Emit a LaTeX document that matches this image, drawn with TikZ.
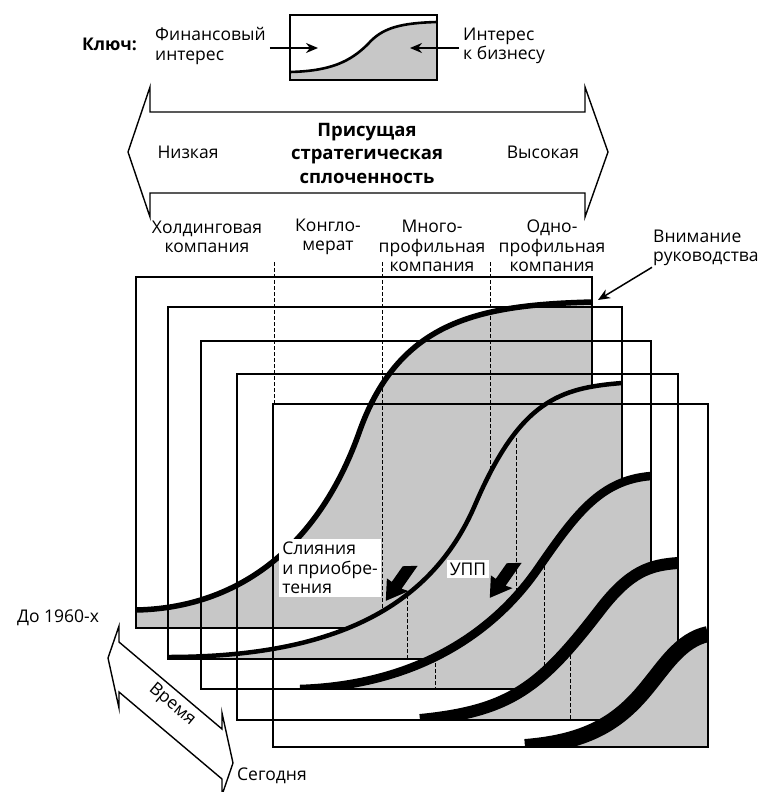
\documentclass[tikz,border=0pt]{standalone}
\usepackage{fontspec}
\setmainfont{Open Sans}
\usetikzlibrary{arrows.meta}

\tikzset{
  frm/.style={draw, line width=1.1pt},
  greyarea/.style={fill=black!22},
  divider/.style={line width=0.9pt, dash pattern=on 3.5pt off 2.5pt},
  lbl/.style={font=\fontsize{17.5}{19.5}\selectfont, align=center, inner sep=1pt},
  ptr/.style={-{Stealth[length=12pt,width=10pt]}, line width=1.5pt},
  whitebox/.style={lbl, fill=white, align=left, inner sep=3pt},
}

% curves of the five frames
\newcommand{\curveA}{(136,610) .. controls (240,608) and (320,545) .. (360,430) .. controls (400,320) and (480,305) .. (592,302)}
\newcommand{\curveB}{(168,657) .. controls (330,657) and (430,610) .. (475,505) .. controls (520,400) and (560,388) .. (622,383)}
\newcommand{\curveC}{(300,689) .. controls (420,685) and (495,630) .. (537,570) .. controls (575,515) and (600,480) .. (651,476)}
\newcommand{\curveD}{(420,720) .. controls (510,711) and (540,688) .. (600,610) .. controls (630,571) and (650,565) .. (678,563)}
\newcommand{\curveE}{(525,747) .. controls (590,742) and (620,720) .. (645,690) .. controls (665,666) and (680,640) .. (708,634)}
% black block arrow, pointing along local x
\newcommand{\blockarrow}{(-24,-6) -- (4,-6) -- (2,-13) -- (23,0) -- (4,12) -- (4,6) -- (-15,6) -- cycle}

\begin{document}
\begin{tikzpicture}[x=1pt, y=-1pt]
\useasboundingbox (0,0) rectangle (760,792);

% key
\fill[greyarea] (290,72) .. controls (330,71) and (350,62) .. (368,44) .. controls (382,28) and (400,23) .. (437,22) -- (437,80) -- (290,80) -- cycle;
\draw[line width=2.6pt] (290,72) .. controls (330,71) and (350,62) .. (368,44) .. controls (382,28) and (400,23) .. (437,22);
\draw[frm, line width=1.4pt] (290,15) rectangle (437,80);
\node[lbl, anchor=east] (keyword) at (138,44) {\bfseries Ключ:};
\node[lbl, align=left, anchor=west, inner sep=4pt] (fin) at (151,46) {Финансовый\\интерес};
\node[lbl, align=left, anchor=west, inner sep=4pt] (biz) at (459,46) {Интерес\\к бизнесу};
\coordinate (finTip) at (318,48);
\coordinate (bizTip) at (410,48);
\draw[ptr] (fin.east |- finTip) -- (finTip);
\draw[ptr] (biz.west |- bizTip) -- (bizTip);

% cohesion arrow
\draw[line width=1.4pt] (128,152) -- (150,87) -- (150,112) -- (585,112) -- (585,87) -- (608,152)
  -- (585,217) -- (585,193) -- (150,193) -- (150,217) -- cycle;
\node[lbl] (low) at (188,152) {Низкая};
\node[lbl] (high) at (543,152) {Высокая};
\node[lbl, font=\fontsize{18.5}{23.5}\selectfont\bfseries] (cohesion) at (367,153) {Присущая\\стратегическая\\сплоченность};

% company types
\node[lbl] (holding) at (207,237) {Холдинговая\\компания};
\node[lbl] (conglo) at (328,237) {Конгло-\\мерат};
\node[lbl] (multi) at (432,246) {Много-\\профильная\\компания};
\node[lbl] (single) at (552,246) {Одно-\\профильная\\компания};
\node[lbl, align=left, anchor=west] (attn) at (652,248) {Внимание\\руководства};

% frames, back to front
\fill[greyarea] \curveA -- (592,628) -- (136,628) -- cycle;
\draw[frm] (136,277) rectangle (592,628);
\fill[greyarea] \curveB -- (622,659) -- (168,659) -- cycle;
\draw[frm] (168,307) rectangle (622,659);
\fill[greyarea] \curveC -- (651,689) -- (201,689) -- cycle;
\draw[frm] (201,341) rectangle (651,689);
\fill[greyarea] \curveD -- (678,720) -- (237,720) -- cycle;
\draw[frm] (237,374) rectangle (678,720);
\fill[greyarea] \curveE -- (708,747) -- (273,747) -- cycle;
\draw[frm] (273,404) rectangle (708,747);

% dividers
\draw[divider] (274,262) -- (274,404);
\draw[divider] (382,262) -- (382,610);
\draw[divider] (407,595) -- (407,659);
\draw[divider] (435,657) -- (435,689);
\draw[divider] (490,262) -- (490,478);
\draw[divider] (516,438) -- (516,590);
\draw[divider] (544,560) -- (544,673);
\draw[divider] (570,655) -- (570,720);

% curves
\begin{scope}
\clip (136,277) rectangle (592,628);
\draw[line width=5.5pt] \curveA;
\end{scope}
\begin{scope}
\clip (168,307) rectangle (622,659);
\draw[line width=4.5pt] \curveB;
\end{scope}
\begin{scope}
\clip (201,341) rectangle (651,689);
\draw[line width=8.5pt] \curveC;
\end{scope}
\begin{scope}
\clip (237,374) rectangle (678,720);
\draw[line width=12pt] \curveD;
\end{scope}
\begin{scope}
\clip (273,404) rectangle (708,747);
\draw[line width=16pt] \curveE;
\end{scope}

% management attention
\coordinate (attnTip) at (598,300);
\draw[ptr] (attn.south west) -- (attnTip);

% moves
\node[whitebox] (merge) at (330,568) {Слияния\\и приобре-\\тения};
\fill[shift={(399,582)}, rotate=235] \blockarrow;
\node[lbl, fill=white, inner sep=3pt] (upp) at (468,569) {УПП};
\fill[shift={(503,579)}, rotate=235] \blockarrow;

% time
\draw[line width=1.4pt] (108,658) -- (119,626) -- (119,642) -- (222,729) -- (222,713) -- (233,763)
  -- (222,795) -- (222,779) -- (119,692) -- (119,708) -- cycle;
\node[lbl, rotate=-40] (time) at (172,705) {Время};
\node[lbl] (past) at (58,618) {До 1960-х};
\node[lbl, anchor=west] (today) at (236,776) {Сегодня};
\end{tikzpicture}
\end{document}
